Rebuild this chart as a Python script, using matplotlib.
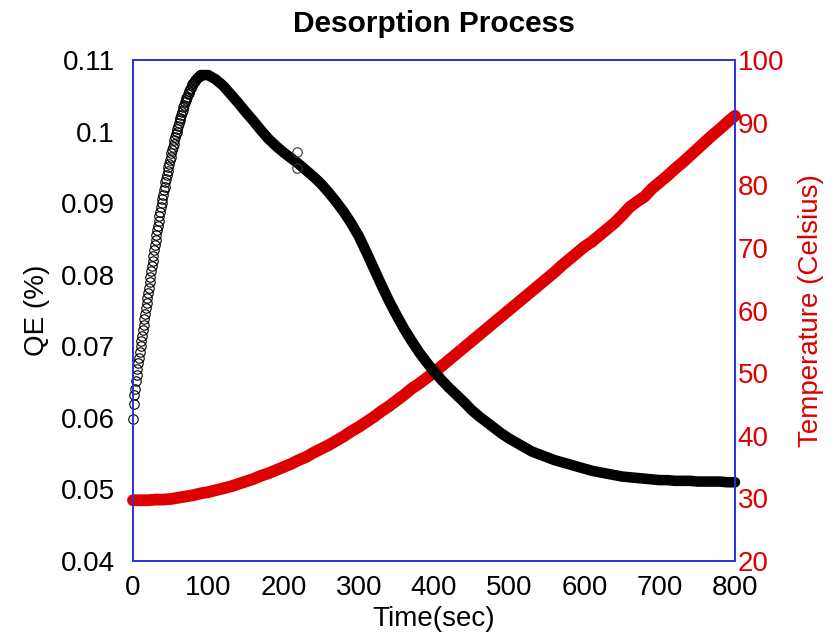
import numpy as np
import matplotlib
matplotlib.use('Agg')
from matplotlib import pyplot as plt

plt.rcParams['font.family'] = ['Liberation Sans', 'DejaVu Sans']

# QE rise, read every second (open circles visible)
t_rise = np.arange(0, 91, 1)
qe_rise = [0.0598, 0.0620, 0.0632, 0.0641, 0.0651, 0.0660,
           0.0668, 0.0676, 0.0684, 0.0692, 0.0700,
           0.0708, 0.0715, 0.0723, 0.0730, 0.0738,
           0.0745, 0.0753, 0.0760, 0.0768, 0.0775,
           0.0782, 0.0790, 0.0797, 0.0805, 0.0812,
           0.0819, 0.0826, 0.0834, 0.0841, 0.0848,
           0.0855, 0.0862, 0.0868, 0.0875, 0.0882,
           0.0888, 0.0894, 0.0900, 0.0906, 0.0912,
           0.0918, 0.0923, 0.0929, 0.0934, 0.0940,
           0.0945, 0.0950, 0.0955, 0.0960, 0.0965,
           0.0970, 0.0974, 0.0979, 0.0983, 0.0988,
           0.0992, 0.0996, 0.1000, 0.1004, 0.1008,
           0.1012, 0.1016, 0.1019, 0.1023, 0.1027,
           0.1030, 0.1034, 0.1037, 0.1041, 0.1044,
           0.1047, 0.1049, 0.1052, 0.1054, 0.1057,
           0.1059, 0.1061, 0.1064, 0.1066, 0.1068,
           0.1070, 0.1071, 0.1072, 0.1074, 0.1075,
           0.1076, 0.1077, 0.1078, 0.1078, 0.1079]

# QE fall, every 10 s (dense markers -> solid band)
t_fall = np.arange(90, 801, 10)
qe_fall = [0.1079, 0.1079, 0.1073, 0.1064, 0.1052, 0.1040, 0.1027, 0.1015, 0.1002, 0.0990,
           0.0980, 0.0971, 0.0963, 0.0955, 0.0946, 0.0937, 0.0927, 0.0915, 0.0902, 0.0888,
           0.0872, 0.0854, 0.0832, 0.0809, 0.0786, 0.0764, 0.0744, 0.0725, 0.0708, 0.0692,
           0.0678, 0.0665, 0.0653, 0.0642, 0.0632, 0.0622, 0.0611, 0.0602, 0.0594, 0.0586,
           0.0578, 0.0571, 0.0565, 0.0559, 0.0553, 0.0549, 0.0545, 0.0541, 0.0538, 0.0535,
           0.0532, 0.0529, 0.0526, 0.0524, 0.0522, 0.0520, 0.0518, 0.0517, 0.0516, 0.0515,
           0.0514, 0.0513, 0.0513, 0.0512, 0.0512, 0.0512, 0.0511, 0.0511, 0.0511, 0.0511,
           0.0510, 0.0510]

# stray points near t=218
t_odd = [218, 218]
qe_odd = [0.0972, 0.0949]

# temperature, every 10 s
t_temp = np.arange(0, 801, 10)
temp = [29.7, 29.7, 29.7, 29.8, 29.8, 29.9, 30.1, 30.3, 30.5, 30.8,
        31.0, 31.3, 31.6, 31.9, 32.3, 32.7, 33.1, 33.6, 34.0, 34.5,
        35.0, 35.5, 36.1, 36.6, 37.3, 37.9, 38.5, 39.2, 39.9, 40.7,
        41.4, 42.2, 43.0, 43.9, 44.7, 45.6, 46.5, 47.5, 48.3, 49.2,
        50.1, 51.1, 52.1, 53.1, 54.1, 55.1, 56.1, 57.1, 58.1, 59.1,
        60.1, 61.1, 62.1, 63.1, 64.1, 65.1, 66.1, 67.2, 68.2, 69.2,
        70.2, 71.0, 72.0, 73.0, 74.0, 75.2, 76.5, 77.4, 78.2, 79.5,
        80.5, 81.5, 82.6, 83.6, 84.7, 85.8, 86.9, 88.0, 89.0, 90.1,
        91.1]

red = '#dc0000'
blue = '#3333dd'

fig = plt.figure(figsize=(8.39, 6.39), dpi=100)
ax = fig.add_axes([0.1585, 0.1221, 0.7175, 0.7839])
ax2 = ax.twinx()
ax.set_zorder(ax2.get_zorder() + 1)
ax.patch.set_visible(False)

# temperature (red band)
ax2.plot(t_temp, temp, '-', color=red, lw=8.5,
         solid_capstyle='round', solid_joinstyle='round', clip_on=False)

# QE
ax.plot(t_fall, qe_fall, '-', color='black', lw=7.6,
        solid_capstyle='round', solid_joinstyle='round', clip_on=False)
ax.plot(t_rise, qe_rise, 'o', mfc='none', mec='black', ms=6.8, mew=0.8, clip_on=False)
ax.plot(t_odd, qe_odd, 'o', mfc='none', mec='#333333', ms=6.8, mew=0.8, clip_on=False)

ax.set_xlim(0, 800)
ax.set_ylim(0.04, 0.11)
ax2.set_ylim(20, 100)
ax.set_xticks(np.arange(0, 801, 100))
ax.set_yticks(np.arange(0.04, 0.111, 0.01))
ax.set_yticklabels(['0.04', '0.05', '0.06', '0.07', '0.08', '0.09', '0.1', '0.11'])
ax2.set_yticks(np.arange(20, 101, 10))

ax.tick_params(axis='both', length=0, labelsize=20)
ax.tick_params(axis='y', pad=13)
ax.tick_params(axis='x', pad=10)
ax2.tick_params(axis='y', length=0, labelsize=20, labelcolor=red, pad=2)

for a in (ax, ax2):
    for s in a.spines.values():
        s.set_color(blue)
        s.set_linewidth(1.3)

ax.set_xlabel('Time(sec)', fontsize=20, labelpad=4)
ax.set_ylabel('QE (%)', fontsize=20, labelpad=8)
ax2.set_ylabel('Temperature (Celsius)', fontsize=20, color=red, labelpad=10)
ax.set_title('Desorption Process', fontsize=21.5, fontweight='bold', pad=20)

fig.savefig('out.png', dpi=100)
